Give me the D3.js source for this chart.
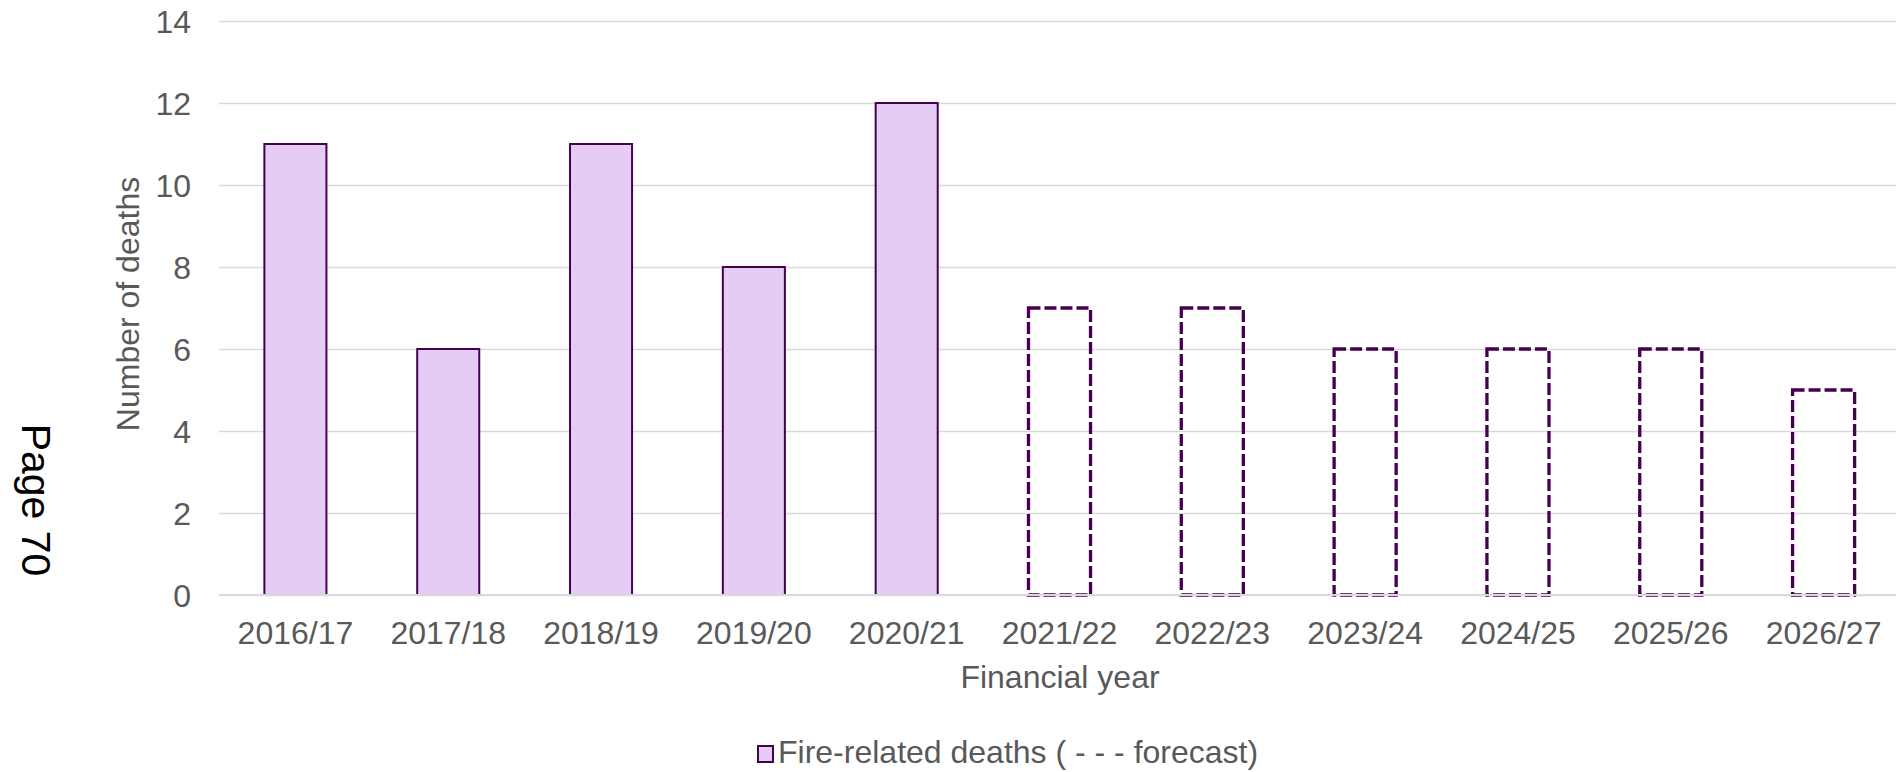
<!DOCTYPE html>
<html>
<head>
<meta charset="utf-8">
<script src="https://cdn.jsdelivr.net/npm/d3@7"></script>
<style>
  html, body { margin: 0; padding: 0; background: #ffffff; }
  svg { display: block; font-family: "Liberation Sans", Arial, sans-serif; }
</style>
</head>
<body>
<svg id="chart" width="1896" height="772"></svg>
<script>
// Financial years and fire-related deaths (later years are forecasts)
const years = ["2016/17", "2017/18", "2018/19", "2019/20", "2020/21",
               "2021/22", "2022/23", "2023/24", "2024/25", "2025/26", "2026/27"];
const deaths = [11, 6, 11, 8, 12, 7, 7, 6, 6, 6, 5];
const isForecast = [false, false, false, false, false, true, true, true, true, true, true];
const yTicks = [0, 2, 4, 6, 8, 10, 12, 14];

const rows = years.map((y, i) => ({ year: y, value: deaths[i], forecast: isForecast[i] }));

const svg = d3.select("#chart");
const m = { left: 219, right: 1900, top: 21, bottom: 595 };
const textColor = "#595959";
const gridColor = "#d9d9d9";
const fillColor = "#e4ccf4";
const strokeColor = "#45004f";
const fontSize = "32px";

const x = d3.scaleBand()
  .domain(years)
  .range([m.left, m.right])
  .paddingInner(0.594)
  .paddingOuter(0.297);

const y = d3.scaleLinear().domain([0, 14]).range([m.bottom, m.top]);

// horizontal gridlines (value axis without domain line)
const yAxis = svg.append("g")
  .attr("transform", `translate(${m.left},0)`)
  .call(d3.axisLeft(y).tickValues(yTicks).tickSize(-(m.right - m.left)).tickPadding(28));
yAxis.select(".domain").remove();
yAxis.selectAll(".tick line").attr("stroke", gridColor).attr("stroke-width", 1.5);
yAxis.selectAll(".tick text")
  .attr("fill", textColor)
  .style("font-size", fontSize)
  .attr("dy", "0.35em");

// bars
svg.append("g").selectAll("rect")
  .data(rows)
  .join("rect")
  .attr("x", d => x(d.year))
  .attr("y", d => y(d.value))
  .attr("width", x.bandwidth())
  .attr("height", d => y(0) - y(d.value))
  .attr("fill", d => d.forecast ? "none" : fillColor)
  .attr("stroke", strokeColor)
  .attr("stroke-width", d => d.forecast ? 3.3 : 2)
  .attr("stroke-dasharray", d => d.forecast ? "12,4" : null);

// baseline drawn over the bar bottoms
svg.append("line")
  .attr("x1", m.left).attr("x2", m.right)
  .attr("y1", y(0)).attr("y2", y(0))
  .attr("stroke", gridColor).attr("stroke-width", 2);

// category axis labels
const xAxis = svg.append("g")
  .attr("transform", `translate(0,${m.bottom})`)
  .call(d3.axisBottom(x).tickSize(0).tickPadding(26));
xAxis.select(".domain").remove();
xAxis.selectAll(".tick text")
  .attr("fill", textColor)
  .style("font-size", fontSize);

// axis titles
svg.append("text")
  .attr("x", 1060).attr("y", 688)
  .attr("text-anchor", "middle")
  .attr("fill", textColor)
  .style("font-size", fontSize)
  .text("Financial year");

svg.append("text")
  .attr("transform", "translate(139,304) rotate(-90)")
  .attr("text-anchor", "middle")
  .attr("fill", textColor)
  .style("font-size", fontSize)
  .text("Number of deaths");

// page marker
svg.append("text")
  .attr("transform", "translate(22,500) rotate(90)")
  .attr("text-anchor", "middle")
  .attr("fill", "#000000")
  .style("font-size", "41px")
  .text("Page 70");

// legend
const legend = svg.append("g").attr("transform", "translate(758,746)");
legend.append("rect")
  .attr("x", 0).attr("y", 0).attr("width", 15).attr("height", 16)
  .attr("fill", fillColor).attr("stroke", strokeColor).attr("stroke-width", 2);
legend.append("text")
  .attr("x", 20).attr("y", 17)
  .attr("fill", textColor)
  .style("font-size", fontSize)
  .text("Fire-related deaths ( - - - forecast)");
</script>
</body>
</html>
